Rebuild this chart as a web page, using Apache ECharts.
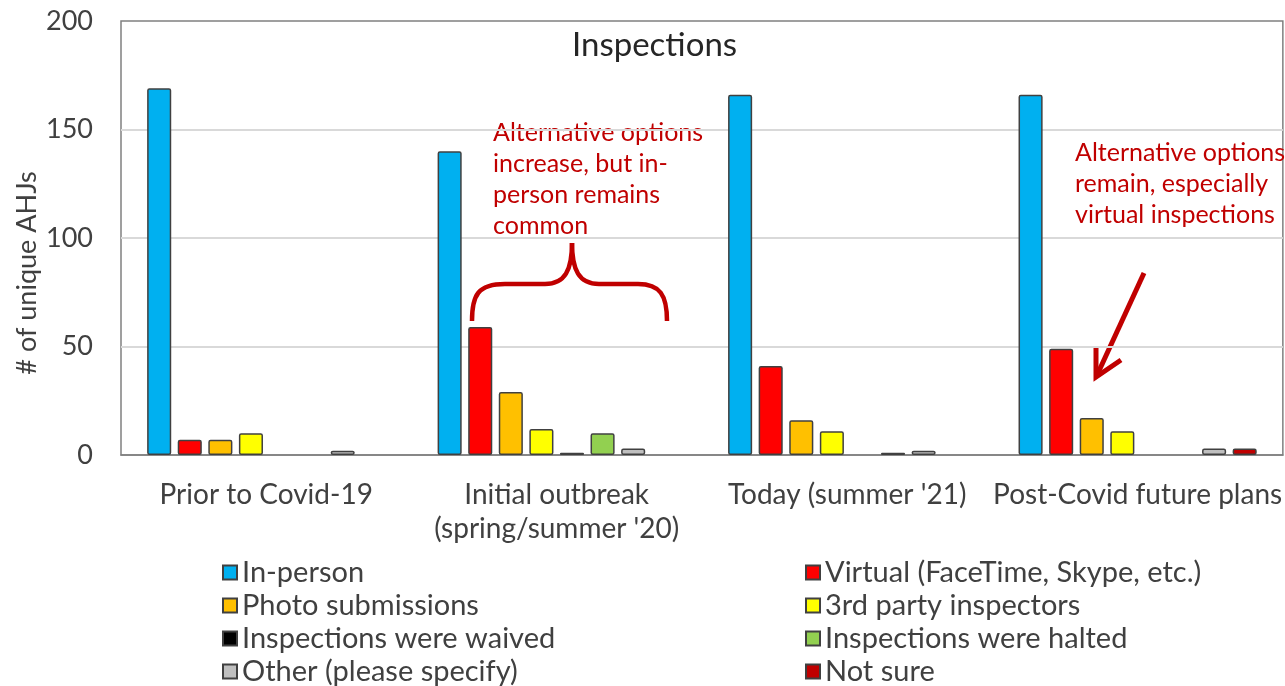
<!DOCTYPE html>
<html>
<head>
<meta charset="utf-8">
<script src="https://cdn.jsdelivr.net/npm/echarts@6/dist/echarts.min.js"></script>
<style>
html,body{margin:0;padding:0;background:#fff;}
#chart{width:1285px;height:686px;}
</style>
</head>
<body>
<div id="chart"></div>
<script>
const categories = ['Prior to Covid-19', "Initial outbreak\n(spring/summer '20)", "Today (summer '21)", 'Post-Covid future plans'];
const seriesNames = ['In-person', 'Virtual (FaceTime, Skype, etc.)', 'Photo submissions', '3rd party inspectors', 'Inspections were waived', 'Inspections were halted', 'Other (please specify)', 'Not sure'];
const inPerson   = [169, 140, 166, 166];
const virtual    = [7, 59, 41, 49];
const photo      = [7, 29, 16, 17];
const thirdParty = [10, 12, 11, 11];
const waived     = [0, 1, 0, 0];
const halted     = [0, 10, 1, 0];
const other      = [2, 3, 2, 3];
const notSure    = [0, 0, 0, 3];
const yTicks = [0, 50, 100, 150, 200];
const colors = ['#00B0F0', '#FF0000', '#FFC000', '#FFFF00', '#000000', '#92D050', '#BFBFBF', '#C00000'];

const values = [inPerson, virtual, photo, thirdParty, waived, halted, other, notSure];
const FONT = 'Lato';
const chart = echarts.init(document.getElementById('chart'), null, {renderer: 'canvas'});

const series = values.map((v, i) => ({
  name: seriesNames[i],
  type: 'bar',
  // zero values are left undrawn (no border sliver on the axis)
  data: v.map(d => (d === 0 ? '-' : d)),
  barGap: '27%',
  barCategoryGap: '18%',
  itemStyle: {color: colors[i], borderColor: '#404040', borderWidth: 1.5, borderRadius: 1.5},
  emphasis: {disabled: true}
}));

const legendText = {fontFamily: FONT, fontSize: 29, color: '#404040', lineHeight: 33};
const RED = '#C00000';
const braceStyle = {stroke: RED, lineWidth: 4.5, fill: null};

chart.setOption({
  animation: false,
  backgroundColor: '#fff',
  textStyle: {fontFamily: FONT},
  grid: {left: 121, top: 21, right: 1, bottom: 231, show: true, borderColor: '#808080', borderWidth: 1.5, containLabel: false},
  xAxis: {
    type: 'category',
    data: categories,
    axisLine: {lineStyle: {color: '#808080', width: 1.5}},
    axisTick: {show: false},
    axisLabel: {fontFamily: FONT, fontSize: 28, color: '#404040', lineHeight: 34, margin: 23, interval: 0}
  },
  yAxis: {
    type: 'value',
    min: yTicks[0], max: yTicks[yTicks.length - 1], interval: 50,
    axisLine: {show: false},
    axisTick: {show: false},
    axisLabel: {fontFamily: FONT, fontSize: 27, color: '#404040', margin: 28},
    splitLine: {lineStyle: {color: '#D9D9D9', width: 2}, showMinLine: false, showMaxLine: false}
  },
  legend: [
    {data: [seriesNames[0], seriesNames[2], seriesNames[4], seriesNames[6]], orient: 'vertical', left: 222, top: 556, height: 140,
     itemWidth: 14, itemHeight: 14, itemGap: 0, textStyle: legendText, icon: 'rect', selectedMode: false, padding: 0},
    {data: [seriesNames[1], seriesNames[3], seriesNames[5], seriesNames[7]], orient: 'vertical', left: 805, top: 556, height: 140,
     itemWidth: 14, itemHeight: 14, itemGap: 0, textStyle: legendText, icon: 'rect', selectedMode: false, padding: 0}
  ],
  graphic: [
    {type: 'text', left: 572, top: 29, style: {text: 'Inspections', font: '33px ' + FONT, fill: '#262626'}},
    {type: 'text', x: 27, y: 273, rotation: Math.PI / 2,
     style: {text: '# of unique AHJs', font: '27px ' + FONT, fill: '#404040', align: 'center', verticalAlign: 'middle'}},
    {type: 'text', left: 493, top: 117,
     style: {text: 'Alternative options\nincrease, but in-\nperson remains\ncommon', font: '25px ' + FONT, fill: RED, lineHeight: 31}},
    {type: 'text', left: 1075, top: 137,
     style: {text: 'Alternative options\nremain, especially\nvirtual inspections', font: '25px ' + FONT, fill: RED, lineHeight: 31}},
    {type: 'bezierCurve', shape: {x1: 472, y1: 321, cpx1: 472, cpy1: 295, cpx2: 478, cpy2: 284, x2: 505, y2: 284}, style: braceStyle},
    {type: 'line', shape: {x1: 505, y1: 284, x2: 545, y2: 284}, style: braceStyle},
    {type: 'bezierCurve', shape: {x1: 545, y1: 284, cpx1: 565, cpy1: 284, cpx2: 572, cpy2: 270, x2: 572, y2: 243}, style: braceStyle},
    {type: 'bezierCurve', shape: {x1: 572, y1: 243, cpx1: 572, cpy1: 270, cpx2: 579, cpy2: 284, x2: 599, y2: 284}, style: braceStyle},
    {type: 'line', shape: {x1: 599, y1: 284, x2: 638, y2: 284}, style: braceStyle},
    {type: 'bezierCurve', shape: {x1: 638, y1: 284, cpx1: 660, cpy1: 284, cpx2: 667, cpy2: 295, x2: 667, y2: 321}, style: braceStyle},
    {type: 'polyline', shape: {points: [[1144, 273], [1098, 373]]}, style: {stroke: RED, lineWidth: 5, fill: null}},
    {type: 'polyline', shape: {points: [[1096, 347], [1096, 377], [1121, 360]]}, style: {stroke: RED, lineWidth: 5, fill: null, lineJoin: 'miter'}}
  ],
  series: series
});
</script>
</body>
</html>
